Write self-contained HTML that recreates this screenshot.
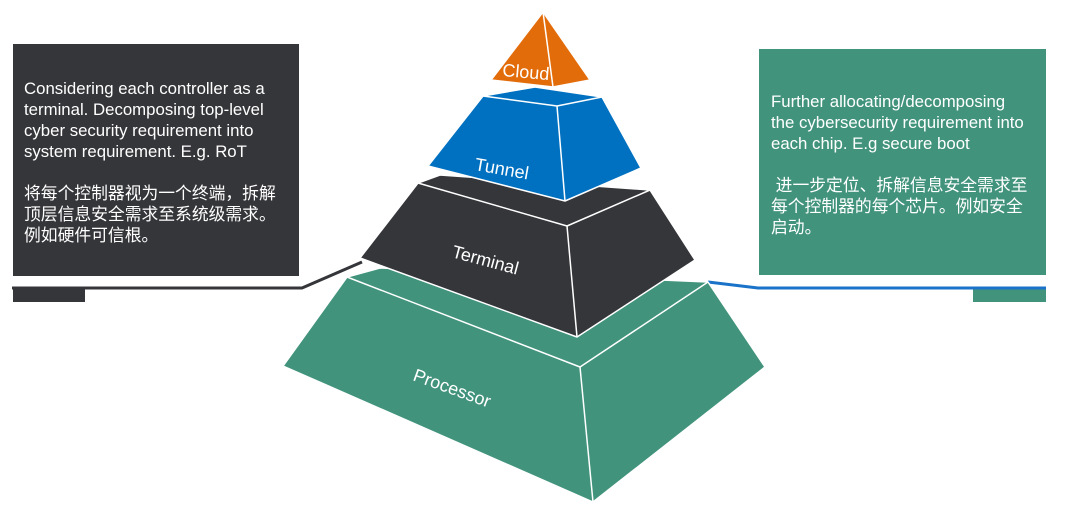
<!DOCTYPE html>
<html><head><meta charset="utf-8"><style>
body{margin:0;width:1080px;height:528px;background:#fff;position:relative;overflow:hidden;font-family:"Liberation Sans","Noto Sans CJK SC",sans-serif}
.box{position:absolute;color:#fff;font-size:16.8px;line-height:21px}
</style></head><body>
<div class="box" style="left:13px;top:44px;width:286px;height:232px;background:#35363a"><div style="padding:34px 0 0 11px;width:262px">Considering each controller as a terminal. Decomposing top-level cyber security requirement into system requirement. E.g. RoT<br><br>将每个控制器视为一个终端，拆解顶层信息安全需求至系统级需求。例如硬件可信根。</div></div>
<div style="position:absolute;left:13px;top:289px;width:72px;height:13px;background:#35363a"></div>
<div class="box" style="left:759px;top:49px;width:287px;height:226px;background:#41937c"><div style="padding:42px 0 0 12px;width:262px">Further allocating/decomposing the cybersecurity requirement into each chip. E.g secure boot<br><br>&nbsp;进一步定位、拆解信息安全需求至每个控制器的每个芯片。例如安全启动。</div></div>
<div style="position:absolute;left:973px;top:289px;width:73px;height:13px;background:#41937c"></div>
<svg width="1080" height="528" style="position:absolute;left:0;top:0">
<polyline points="12,288 302,288 362,262" fill="none" stroke="#35363a" stroke-width="3"/>
<polyline points="708,282 758,288 1046,288" fill="none" stroke="#1a73c8" stroke-width="3"/>
<g stroke="#fff" stroke-width="1.5" stroke-linejoin="round">
<polygon points="347,277 380,268 708,282 765,367 593,502 283,366" fill="#41937c"/>
<polyline points="347,277 580,367 708,282" fill="none"/><line x1="580" y1="367" x2="593" y2="502"/>
<polygon points="418,183 440,175 650,190 695,260 577,337 360,258" fill="#35363a"/>
<polyline points="418,183 567,226 650,190" fill="none"/><line x1="567" y1="226" x2="577" y2="337"/>
<polygon points="483,96 535,87 602,97 641,168 565,201 428,166" fill="#0071c1"/>
<polyline points="483,96 557,106 602,97" fill="none"/><line x1="557" y1="106" x2="565" y2="201"/>
<polygon points="543,12 590,80 553,87 491,80" fill="#e36c0a"/>
<line x1="543" y1="12" x2="553" y2="87"/>
</g>
<g fill="#fff" font-family="Liberation Sans,sans-serif" font-size="18">
<text x="502" y="76" transform="rotate(5 502 76)">Cloud</text>
<text x="474" y="170" transform="rotate(10 474 170)">Tunnel</text>
<text x="451" y="257" transform="rotate(15 451 257)">Terminal</text>
<text x="412" y="380" transform="rotate(20 412 380)">Processor</text>
</g>
</svg>
</body></html>
